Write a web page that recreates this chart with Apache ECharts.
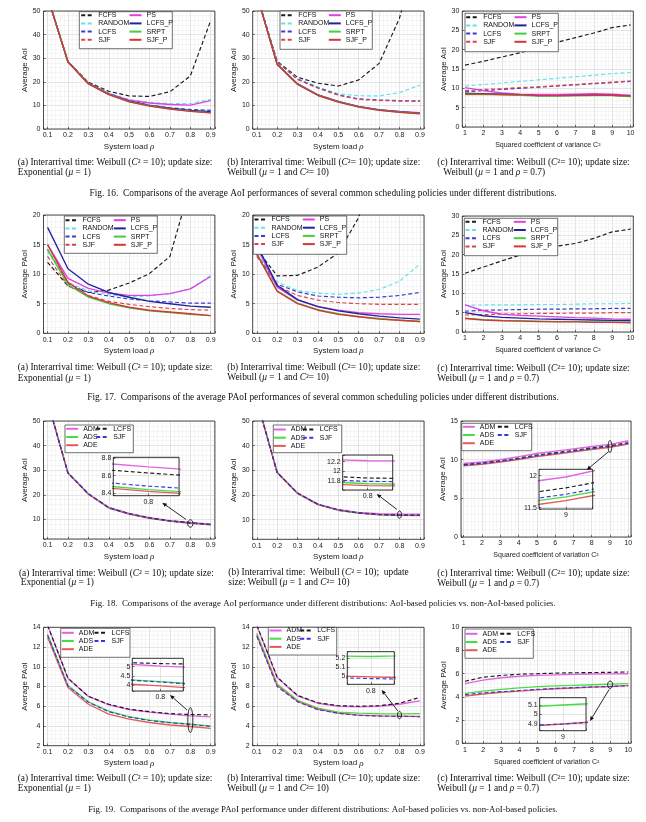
<!DOCTYPE html>
<html><head><meta charset="utf-8">
<script src="https://cdn.jsdelivr.net/npm/echarts@6/dist/echarts.min.js"></script>
<style>html,body{margin:0;padding:0;background:#fff}#c{width:646px;height:822px}</style>
</head><body><div id="c"></div>
<script>
// ---------- x values ----------
const rho = [0.1,0.2,0.3,0.4,0.5,0.6,0.7,0.8,0.9];
const c2 = [1,2,3,4,5,6,7,8,9,10];

// ---------- Fig. 16 (AoI) ----------
const f16a_FCFS   = [56, 28.6, 19.8, 16.0, 14.0, 13.8, 15.8, 22.5, 46];
const f16a_RANDOM = [56, 28.5, 19.5, 15.2, 12.5, 11.3, 10.8, 10.8, 12.6];
const f16a_LCFS   = [56, 28.5, 19.4, 14.9, 11.9, 10.1, 9.0, 8.3, 7.9];
const f16a_SJF    = [56, 28.5, 19.3, 14.8, 11.7, 9.9, 8.6, 7.7, 7.0];
const f16a_PS     = [56, 28.5, 19.4, 15.0, 12.2, 11.0, 10.4, 10.1, 12.0];
const f16a_LCFS_P = [56, 28.5, 19.3, 14.8, 11.8, 10.0, 8.8, 7.9, 7.3];
const f16a_SRPT   = [56, 28.5, 19.2, 14.7, 11.6, 9.8, 8.5, 7.6, 6.9];
const f16a_SJF_P  = [56, 28.4, 19.1, 14.6, 11.5, 9.7, 8.4, 7.5, 6.8];

const f16b_FCFS   = [57, 28.7, 21.9, 19.4, 18.2, 20.8, 27.8, 47, 80];
const f16b_RANDOM = [57, 28.6, 21.3, 17.8, 14.9, 14.1, 14.0, 15.4, 18.6];
const f16b_LCFS   = [57, 28.5, 21.1, 17.5, 14.5, 12.8, 12.3, 12.0, 11.9];
const f16b_SJF    = [57, 28.4, 21.0, 17.3, 14.3, 12.5, 12.1, 11.8, 11.7];
const f16b_PS     = [57, 27.5, 19.2, 14.5, 11.7, 9.6, 8.2, 7.5, 6.9];
const f16b_LCFS_P = [57, 27.4, 19.1, 14.4, 11.6, 9.5, 8.1, 7.3, 6.6];
const f16b_SRPT   = [57, 27.4, 19.0, 14.3, 11.5, 9.4, 8.0, 7.2, 6.5];
const f16b_SJF_P  = [57, 27.3, 18.9, 14.2, 11.4, 9.3, 7.9, 7.1, 6.4];

const f16c_FCFS   = [16.0, 17.0, 18.1, 19.2, 20.6, 21.9, 23.1, 24.3, 25.7, 26.4];
const f16c_RANDOM = [10.6, 11.0, 11.4, 11.8, 12.2, 12.6, 13.0, 13.4, 13.8, 14.1];
const f16c_LCFS   = [9.1, 9.4, 9.7, 10.0, 10.3, 10.6, 10.9, 11.2, 11.5, 11.8];
const f16c_SJF    = [9.4, 9.7, 9.9, 10.2, 10.4, 10.7, 11.0, 11.3, 11.6, 11.9];
const f16c_PS     = [10.2, 9.4, 8.8, 8.5, 8.4, 8.4, 8.5, 8.6, 8.5, 8.2];
const f16c_LCFS_P = [8.7, 8.6, 8.5, 8.3, 8.1, 8.1, 8.2, 8.2, 8.2, 8.0];
const f16c_SRPT   = [8.4, 8.4, 8.3, 8.2, 8.0, 8.0, 8.1, 8.1, 8.1, 7.9];
const f16c_SJF_P  = [8.5, 8.5, 8.4, 8.3, 8.1, 8.1, 8.1, 8.2, 8.2, 8.0];

// ---------- Fig. 17 (PAoI) ----------
const f17a_FCFS   = [12.0, 8.0, 6.9, 7.3, 8.5, 10.1, 13.0, 25, 45];
const f17a_RANDOM = [13.8, 8.6, 7.2, 6.5, 6.2, 6.3, 6.7, 7.5, 9.8];
const f17a_LCFS   = [14.2, 8.4, 6.9, 6.3, 5.8, 5.5, 5.3, 5.1, 5.1];
const f17a_SJF    = [13.0, 8.0, 6.4, 5.4, 4.9, 4.5, 4.2, 4.0, 3.9];
const f17a_PS     = [15.0, 9.3, 7.6, 6.8, 6.4, 6.4, 6.7, 7.5, 9.6];
const f17a_LCFS_P = [17.9, 10.9, 8.3, 6.9, 6.1, 5.4, 5.0, 4.6, 4.4];
const f17a_SRPT   = [14.2, 8.2, 6.1, 5.0, 4.3, 3.8, 3.5, 3.2, 3.0];
const f17a_SJF_P  = [15.0, 8.6, 6.3, 5.2, 4.4, 3.9, 3.6, 3.3, 3.0];

const f17b_FCFS   = [14.2, 9.7, 9.8, 11.2, 13.6, 19.6, 32, 55, 90];
const f17b_RANDOM = [13.5, 8.7, 7.2, 6.8, 6.6, 6.8, 7.4, 8.8, 11.7];
const f17b_LCFS   = [13.3, 8.3, 7.0, 6.3, 6.1, 6.0, 6.1, 6.4, 6.9];
const f17b_SJF    = [13.0, 8.0, 6.4, 5.6, 5.2, 5.0, 4.9, 4.9, 4.9];
const f17b_PS     = [14.5, 7.8, 5.6, 4.5, 3.9, 3.5, 3.3, 3.2, 3.2];
const f17b_LCFS_P = [15.0, 8.1, 5.7, 4.5, 3.8, 3.3, 2.9, 2.6, 2.4];
const f17b_SRPT   = [13.5, 7.2, 5.1, 4.0, 3.3, 2.8, 2.5, 2.2, 2.0];
const f17b_SJF_P  = [13.4, 7.1, 5.0, 3.9, 3.2, 2.8, 2.4, 2.2, 2.0];

const f17c_FCFS   = [15.2, 16.8, 18.4, 19.9, 21.2, 22.2, 22.9, 24.2, 25.9, 26.6];
const f17c_RANDOM = [6.9, 7.0, 7.0, 7.0, 7.1, 7.1, 7.2, 7.3, 7.3, 7.4];
const f17c_LCFS   = [5.4, 5.6, 5.7, 5.8, 5.9, 5.9, 6.0, 6.0, 6.1, 6.1];
const f17c_SJF    = [4.4, 4.5, 4.6, 4.7, 4.8, 4.8, 4.9, 4.9, 5.0, 5.0];
const f17c_PS     = [7.0, 5.5, 4.6, 4.3, 4.1, 3.9, 3.7, 3.6, 3.4, 3.3];
const f17c_LCFS_P = [5.0, 4.2, 3.8, 3.6, 3.4, 3.3, 3.2, 3.1, 3.0, 2.9];
const f17c_SRPT   = [3.6, 3.2, 3.0, 2.9, 2.8, 2.7, 2.7, 2.6, 2.6, 2.5];
const f17c_SJF_P  = [3.5, 3.1, 2.9, 2.8, 2.7, 2.6, 2.6, 2.5, 2.5, 2.4];

// ---------- Fig. 18 (AoI, AoI-based vs non-AoI-based) ----------
const f18a_ADM  = [58, 28.9, 20.4, 14.9, 12.4, 10.7, 9.5, 8.70, 8.0];
const f18a_ADS  = [58, 28.8, 20.3, 14.7, 12.2, 10.5, 9.3, 8.44, 7.82];
const f18a_ADE  = [58, 28.8, 20.2, 14.6, 12.1, 10.4, 9.25, 8.42, 7.8];
const f18a_LCFS = [58, 28.9, 20.4, 14.8, 12.3, 10.6, 9.4, 8.63, 7.95];
const f18a_SJF  = [58, 28.8, 20.3, 14.7, 12.2, 10.5, 9.3, 8.48, 7.85];

const f18b_ADM  = [58.5, 29.2, 20.8, 16.3, 14.0, 12.9, 12.4, 12.22, 12.2];
const f18b_ADS  = [58.5, 29.1, 20.7, 16.1, 13.8, 12.6, 12.0, 11.74, 11.7];
const f18b_ADE  = [58.5, 29.0, 20.6, 16.1, 13.8, 12.6, 11.9, 11.70, 11.65];
const f18b_LCFS = [58.5, 29.1, 20.7, 16.2, 13.9, 12.7, 12.1, 11.86, 11.8];
const f18b_SJF  = [58.5, 29.1, 20.7, 16.2, 13.9, 12.7, 12.0, 11.79, 11.75];

const f18c_ADM  = [9.5, 9.7, 10.0, 10.4, 10.8, 11.1, 11.4, 11.7, 11.98, 12.45];
const f18c_ADS  = [9.25, 9.45, 9.75, 10.1, 10.45, 10.75, 11.05, 11.38, 11.67, 12.05];
const f18c_ADE  = [9.2, 9.4, 9.7, 10.0, 10.4, 10.7, 11.0, 11.32, 11.61, 12.0];
const f18c_LCFS = [9.35, 9.55, 9.85, 10.2, 10.6, 10.9, 11.2, 11.52, 11.81, 12.2];
const f18c_SJF  = [9.3, 9.5, 9.8, 10.1, 10.5, 10.8, 11.1, 11.42, 11.71, 12.1];

// ---------- Fig. 19 (PAoI, AoI-based vs non-AoI-based) ----------
const f19a_ADM  = [14.2, 8.8, 7.0, 6.15, 5.65, 5.4, 5.2, 5.02, 4.92];
const f19a_ADS  = [13.3, 8.1, 6.45, 5.5, 4.95, 4.6, 4.35, 4.18, 4.0];
const f19a_ADE  = [13.0, 7.9, 6.2, 5.2, 4.7, 4.35, 4.1, 3.95, 3.75];
const f19a_LCFS = [14.2, 8.85, 7.0, 6.2, 5.7, 5.45, 5.25, 5.16, 5.12];
const f19a_SJF  = [13.2, 8.05, 6.4, 5.45, 4.9, 4.55, 4.33, 4.16, 3.95];

const f19b_ADM  = [14.2, 8.9, 7.05, 6.3, 6.0, 5.95, 6.0, 6.2, 6.55];
const f19b_ADS  = [13.4, 8.25, 6.6, 5.8, 5.4, 5.3, 5.24, 5.22, 5.25];
const f19b_ADE  = [13.2, 8.1, 6.5, 5.7, 5.3, 5.1, 5.02, 4.99, 4.96];
const f19b_LCFS = [14.2, 8.95, 7.1, 6.35, 6.05, 6.0, 6.05, 6.3, 6.9];
const f19b_SJF  = [13.1, 8.0, 6.45, 5.65, 5.28, 5.08, 5.0, 4.97, 4.95];

const f19c_ADM  = [5.15, 5.45, 5.65, 5.78, 5.85, 5.9, 5.94, 5.97, 5.99, 6.0];
const f19c_ADS  = [4.3, 4.5, 4.65, 4.78, 4.88, 4.95, 5.0, 5.05, 5.1, 5.15];
const f19c_ADE  = [4.08, 4.25, 4.4, 4.5, 4.6, 4.7, 4.77, 4.84, 4.9, 4.97];
const f19c_LCFS = [5.35, 5.7, 5.85, 5.95, 6.0, 6.05, 6.08, 6.1, 6.12, 6.15];
const f19c_SJF  = [4.2, 4.35, 4.45, 4.55, 4.65, 4.73, 4.8, 4.86, 4.9, 4.97];

// ---------- text ----------
const LEFT8 = ['FCFS','RANDOM','LCFS','SJF'];
const RIGHT8 = ['PS','LCFS_P','SRPT','SJF_P'];
const LEFT5 = ['ADM','ADS','ADE'];
const RIGHT5 = ['LCFS#2','SJF#2'];
const X_LOAD = 'System load {i|ρ}';
const X_VARIANCE = 'Squared coefficient of variance C²';
const X_VARIATION = 'Squared coefficient of variation C²';
const Y_AOI = 'Average AoI';
const Y_PAOI = 'Average PAoI';

// ---------- styles ----------
const SANS = '"Liberation Sans", Arial, sans-serif';
const SERIF = '"Liberation Serif", "Times New Roman", serif';
const STY = {
  FCFS:{color:'#1a1a1a',dash:true}, RANDOM:{color:'#62e2e8',dash:true},
  LCFS:{color:'#3a3ad2',dash:true}, SJF:{color:'#dc4444',dash:true},
  PS:{color:'#e040e0'}, LCFS_P:{color:'#23239e'}, SRPT:{color:'#3fcf3f'}, SJF_P:{color:'#d43636'},
  ADM:{color:'#e462e4'}, ADS:{color:'#48dc48'}, ADE:{color:'#e45a5a'},
  'LCFS#2':{color:'#1a1a1a',dash:true}, 'SJF#2':{color:'#3838dc',dash:true}
};

function S8(p){ return [['FCFS',p.FCFS],['RANDOM',p.RANDOM],['LCFS',p.LCFS],['SJF',p.SJF],['PS',p.PS],['LCFS_P',p.LCFS_P],['SRPT',p.SRPT],['SJF_P',p.SJF_P]]; }
function S5(p){ return [['ADM',p.ADM],['ADS',p.ADS],['ADE',p.ADE],['LCFS#2',p.LCFS],['SJF#2',p.SJF]]; }

const XL = [0.08,0.92,0.1], XC = [0.85,10.15,1];
const PANELS = [
 {rect:[43.5,11,171.3,118], xr:XL, yr:[0,50,10], xs:rho, yName:Y_AOI, xName:X_LOAD, xnf:8, xng:13,
  series:S8({FCFS:f16a_FCFS,RANDOM:f16a_RANDOM,LCFS:f16a_LCFS,SJF:f16a_SJF,PS:f16a_PS,LCFS_P:f16a_LCFS_P,SRPT:f16a_SRPT,SJF_P:f16a_SJF_P}),
  leg:{L:81.7,R:130,top:15.7,left:LEFT8,right:RIGHT8,box:[79.3,11.7,172.3,48.7]}},
 {rect:[252.7,11,171.3,118], xr:XL, yr:[0,50,10], xs:rho, yName:Y_AOI, xName:X_LOAD, xnf:8, xng:13,
  series:S8({FCFS:f16b_FCFS,RANDOM:f16b_RANDOM,LCFS:f16b_LCFS,SJF:f16b_SJF,PS:f16b_PS,LCFS_P:f16b_LCFS_P,SRPT:f16b_SRPT,SJF_P:f16b_SJF_P}),
  leg:{L:281.7,R:329.3,top:15.7,left:LEFT8,right:RIGHT8,box:[280,11,372.3,49.3]}},
 {rect:[462.3,11,171,116], xr:XC, yr:[0,30,5], xs:c2, yName:Y_AOI, xName:X_VARIANCE, xnf:7, xng:15,
  series:S8({FCFS:f16c_FCFS,RANDOM:f16c_RANDOM,LCFS:f16c_LCFS,SJF:f16c_SJF,PS:f16c_PS,LCFS_P:f16c_LCFS_P,SRPT:f16c_SRPT,SJF_P:f16c_SJF_P}),
  leg:{L:466.7,R:515,top:17.7,left:LEFT8,right:RIGHT8,box:[465,13.3,558.3,51.7]}},
 {rect:[43.5,215,171.3,118.3], xr:XL, yr:[0,20,5], xs:rho, yName:Y_PAOI, xName:X_LOAD, xnf:8, xng:13,
  series:S8({FCFS:f17a_FCFS,RANDOM:f17a_RANDOM,LCFS:f17a_LCFS,SJF:f17a_SJF,PS:f17a_PS,LCFS_P:f17a_LCFS_P,SRPT:f17a_SRPT,SJF_P:f17a_SJF_P}),
  leg:{L:66,R:114.3,top:220.7,left:LEFT8,right:RIGHT8,box:[64.3,216,157.3,253.3]}},
 {rect:[252.7,215,171.3,118.3], xr:XL, yr:[0,20,5], xs:rho, yName:Y_PAOI, xName:X_LOAD, xnf:8, xng:13,
  series:S8({FCFS:f17b_FCFS,RANDOM:f17b_RANDOM,LCFS:f17b_LCFS,SJF:f17b_SJF,PS:f17b_PS,LCFS_P:f17b_LCFS_P,SRPT:f17b_SRPT,SJF_P:f17b_SJF_P}),
  leg:{L:255,R:303.3,top:220,left:LEFT8,right:RIGHT8,box:[253.3,216,346.7,254.3]}},
 {rect:[462.3,216,171,116], xr:XC, yr:[0,30,5], xs:c2, yName:Y_PAOI, xName:X_VARIANCE, xnf:7, xng:15,
  series:S8({FCFS:f17c_FCFS,RANDOM:f17c_RANDOM,LCFS:f17c_LCFS,SJF:f17c_SJF,PS:f17c_PS,LCFS_P:f17c_LCFS_P,SRPT:f17c_SRPT,SJF_P:f17c_SJF_P}),
  leg:{L:466,R:514.3,top:222.3,left:LEFT8,right:RIGHT8,box:[464.3,218.3,557.7,255.7]}},
 {rect:[43.5,421,171.3,118], xr:XL, yr:[2,50,10], xs:rho, yName:Y_AOI, xName:X_LOAD, xnf:8, xng:13,
  series:S5({ADM:f18a_ADM,ADS:f18a_ADS,ADE:f18a_ADE,LCFS:f18a_LCFS,SJF:f18a_SJF}),
  leg:{L:66.7,R:96.7,top:429.3,left:LEFT5,right:RIGHT5,box:[65,425,133.3,452.7]}},
 {rect:[252.7,421,171.3,118.3], xr:XL, yr:[2,50,10], xs:rho, yName:Y_AOI, xName:X_LOAD, xnf:8, xng:13,
  series:S5({ADM:f18b_ADM,ADS:f18b_ADS,ADE:f18b_ADE,LCFS:f18b_LCFS,SJF:f18b_SJF}),
  leg:{L:274.3,R:303.3,top:430,left:LEFT5,right:RIGHT5,box:[273.3,425,341.7,452.7]}},
 {rect:[461,421,170,116], xr:XC, yr:[0,15,5], xs:c2, yName:Y_AOI, xName:X_VARIATION, xnf:7, xng:15,
  series:S5({ADM:f18c_ADM,ADS:f18c_ADS,ADE:f18c_ADE,LCFS:f18c_LCFS,SJF:f18c_SJF}),
  leg:{L:463.3,R:498.3,top:427.3,left:LEFT5,right:RIGHT5,box:[461.7,423.3,531.7,450.7]}},
 {rect:[43.5,627.3,171.3,118.4], xr:XL, yr:[2,14,2], xs:rho, yName:Y_PAOI, xName:X_LOAD, xnf:8, xng:13,
  series:S5({ADM:f19a_ADM,ADS:f19a_ADS,ADE:f19a_ADE,LCFS:f19a_LCFS,SJF:f19a_SJF}),
  leg:{L:62.3,R:95,top:633.3,left:LEFT5,right:RIGHT5,box:[60.7,628.3,130,657.3]}},
 {rect:[252.7,627.3,171.3,118.4], xr:XL, yr:[2,14,2], xs:rho, yName:Y_PAOI, xName:X_LOAD, xnf:8, xng:13,
  series:S5({ADM:f19b_ADM,ADS:f19b_ADS,ADE:f19b_ADE,LCFS:f19b_LCFS,SJF:f19b_SJF}),
  leg:{L:270,R:300.7,top:631,left:LEFT5,right:RIGHT5,box:[268.3,627.3,336.7,655]}},
 {rect:[462.3,627.3,168.7,116], xr:XC, yr:[0,10,2], xs:c2, yName:Y_PAOI, xName:X_VARIATION, xnf:7, xng:15,
  series:S5({ADM:f19c_ADM,ADS:f19c_ADS,ADE:f19c_ADE,LCFS:f19c_LCFS,SJF:f19c_SJF}),
  leg:{L:466,R:500.7,top:634.3,left:LEFT5,right:RIGHT5,box:[465,629,533.3,658.3]}}
];

const INSETS = [
 {panel:6, rect:[113.3,457.3,65.7,38.4], xr:[0.796,0.8035,0.01], yr:[8.37,8.81,0.2], ell:[0.8,8.3,2.7,3.7], arrow:[-4.3,-4,162.3,502.7]},
 {panel:7, rect:[342.7,455,50,35], xr:[0.79,0.81,0.02], yr:[11.61,12.34,0.2], ell:[0.8,12.0,2,3.7], arrow:[-2.7,-5.3,376.7,494]},
 {panel:8, rect:[539,469.3,53.7,39.7], xr:[8.8,9.2,0.5], yr:[11.48,12.1,0.5], ell:[9,11.7,1.8,6], arrow:[-1.3,5,586.7,470]},
 {panel:9, rect:[132.3,658.3,51,32.7], xr:[0.745,0.845,0.1], yr:[3.67,5.45,0.5], ell:[0.8,4.6,2.5,12.5], arrow:[-3.3,-10,170,695]},
 {panel:10, rect:[347.3,651.7,47,32.6], xr:[0.775,0.825,0.05], yr:[4.905,5.275,0.1], ell:[0.8,5.1,2,3.7], arrow:[-1.6,-4,381.7,690]},
 {panel:11, rect:[539.7,697.7,46.3,33], xr:[8.75,9.25,0.5], yr:[4.83,5.177,0.1], ell:[9,5.05,2.5,3.7], arrow:[-1,4.7,590,721]}
];

const SUB_A1 = '(a) Interarrival time: Weibull ({i|C}² = 10); update size:';
const SUB_A2 = 'Exponential ({i|μ} = 1)';
const SUB_B1 = '(b) Interarrival time: Weibull ({i|C}²= 10); update size:';
const SUB_B2 = 'Weibull ({i|μ} = 1 and {i|C}²= 10)';
const SUB_C1 = '(c) Interarrival time: Weibull ({i|C}²= 10); update size:';
const SUB_C2 = 'Weibull ({i|μ} = 1 and {i|ρ} = 0.7)';
const SUB_B1_18 = '(b) Interarrival time:  Weibull ({i|C}² = 10);  update';
const SUB_B2_18 = 'size: Weibull ({i|μ} = 1 and {i|C}²= 10)';
const CAPTIONS = [
 'Fig. 16.  Comparisons of the average AoI performances of several common scheduling policies under different distributions.',
 'Fig. 17.  Comparisons of the average PAoI performances of several common scheduling policies under different distributions.',
 'Fig. 18.  Comparisons of the average AoI performance under different distributions: AoI-based policies vs. non-AoI-based policies.',
 'Fig. 19.  Comparisons of the average PAoI performance under different distributions: AoI-based policies vs. non-AoI-based policies.'
];
// [text, x, y]
const SUBCAPS = [
 [SUB_A1,17.7,162.3],[SUB_A2,17.7,172.7],[SUB_B1,227.3,162.3],[SUB_B2,227.3,172.7],[SUB_C1,437.3,162.3],[SUB_C2,443.3,172.7],
 [SUB_A1,17.7,368],[SUB_A2,17.7,378.3],[SUB_B1,227.3,367.5],[SUB_B2,227.3,377.7],[SUB_C1,437.3,368.3],[SUB_C2,437.3,378.3],
 [SUB_A1,19,573.3],[SUB_A2,20.7,582.7],[SUB_B1_18,228.3,572.7],[SUB_B2_18,228.3,582.7],[SUB_C1,437.3,573.3],[SUB_C2,437.3,583.3],
 [SUB_A1,17.7,779],[SUB_A2,17.7,789],[SUB_B1,227.3,778.3],[SUB_B2,227.3,789],[SUB_C1,437.3,779],[SUB_C2,437.3,789]
];
const CAP_Y = [193.3, 398, 604, 810];
const CAP_FS = [9.4, 9.4, 8.85, 8.85];

// ---------- helpers ----------
function fmt(step){
  return function(v){
    const q = v/step;
    if (Math.abs(q - Math.round(q)) > 1e-6) return '';
    return String(parseFloat(v.toFixed(4)));
  };
}
function axis(r, o){
  const base = {
    type:'value', min:r[0], max:r[1], splitNumber:Math.max(1, Math.round((r[1]-r[0])/r[2])),
    axisLine:{show:false},
    axisTick:{show:true, inside:true, length:2.2, lineStyle:{color:'#222', width:0.6}},
    axisLabel:{fontSize:7, fontFamily:SANS, color:'#1a1a1a', margin:3, formatter:fmt(r[2])},
    splitLine:{show:true, lineStyle:{color:'#d2d2d2', width:0.6}},
    minorTick:{show:false, splitNumber:5},
    minorSplitLine:{show:true, lineStyle:{color:'#ececec', width:0.5}}
  };
  return Object.assign(base, o||{});
}
function pairs(xs, ys){ return xs.map((x,i)=>[x, ys[i]]); }
function line(name, xs, ys, gi, z){
  const s = STY[name];
  return {type:'line', name:name, data:pairs(xs,ys), xAxisIndex:gi, yAxisIndex:gi,
    symbol:'none', showSymbol:false, clip:true, silent:true, z:z, animation:false,
    lineStyle:{color:s.color, width:s.dash?1.15:1.35, type:s.dash?[4,2.5]:'solid'},
    itemStyle:{color:s.color}, emphasis:{disabled:true}};
}

const grids=[], xAxes=[], yAxes=[], series=[], legends=[];
PANELS.forEach((p,i)=>{
  grids.push({left:p.rect[0], top:p.rect[1], width:p.rect[2], height:p.rect[3], show:true,
    borderColor:'#222', borderWidth:0.8, backgroundColor:'transparent', z:1, containLabel:false, outerBoundsMode:'none'});
  xAxes.push(axis(p.xr, {gridIndex:i, name:p.xName, nameLocation:'middle', nameGap:p.xng,
    nameTextStyle:{fontSize:p.xnf, fontFamily:SANS, color:'#1a1a1a', rich:{i:{fontFamily:SERIF, fontStyle:'italic', fontSize:p.xnf+1}}}}));
  yAxes.push(axis(p.yr, {gridIndex:i, name:p.yName, nameLocation:'middle', nameGap:12,
    nameTextStyle:{fontSize:8, fontFamily:SANS, color:'#1a1a1a'}}));
  p.series.forEach(s=>series.push(line(s[0], p.xs, s[1], i, 2)));
  [[p.leg.L, p.leg.left],[p.leg.R, p.leg.right]].forEach(c=>{
    legends.push({orient:'vertical', left:c[0]-1.5, top:p.leg.top-4, padding:0, itemWidth:12, itemHeight:8, itemGap:1.2,
      selectedMode:false, z:20, data:c[1], formatter:n=>n.split('#')[0],
      itemStyle:{opacity:0}, textStyle:{fontSize:7, fontFamily:SANS, color:'#111'}});
  });
});
INSETS.forEach((ins,k)=>{
  const gi = PANELS.length + k, p = PANELS[ins.panel];
  grids.push({left:ins.rect[0], top:ins.rect[1], width:ins.rect[2], height:ins.rect[3], show:true,
    borderColor:'#222', borderWidth:0.9, backgroundColor:'transparent', z:8, containLabel:false, outerBoundsMode:'none'});
  xAxes.push(axis(ins.xr, {gridIndex:gi, z:6, minorSplitLine:{show:false}, axisLabel:{fontSize:7, fontFamily:SANS, color:'#1a1a1a', margin:3, formatter:fmt(ins.xr[2])}}));
  yAxes.push(axis(ins.yr, {gridIndex:gi, z:6, minorSplitLine:{show:false}, axisLabel:{fontSize:7, fontFamily:SANS, color:'#1a1a1a', margin:2, formatter:fmt(ins.yr[2])}}));
  p.series.forEach(s=>series.push(line(s[0], p.xs, s[1], gi, 7)));
});

const chart = echarts.init(document.getElementById('c'), null, {renderer:'canvas', width:646, height:822});
chart.setOption({animation:false, backgroundColor:'#fff', grid:grids, xAxis:xAxes, yAxis:yAxes, legend:legends, series:series});

// ---------- annotations ----------
const gr = [];
PANELS.forEach(p=>{
  const b = p.leg.box;
  gr.push({type:'rect', silent:true, z:15, shape:{x:b[0], y:b[1], width:b[2]-b[0], height:b[3]-b[1]},
    style:{fill:'#fff', stroke:'#333', lineWidth:0.7}});
});
INSETS.forEach((ins,k)=>{
  gr.push({type:'rect', silent:true, z:4, shape:{x:ins.rect[0], y:ins.rect[1], width:ins.rect[2], height:ins.rect[3]}, style:{fill:'#fff'}});
  const c = chart.convertToPixel({gridIndex:ins.panel}, [ins.ell[0], ins.ell[1]]);
  gr.push({type:'ellipse', silent:true, z:20, shape:{cx:c[0], cy:c[1], rx:ins.ell[2], ry:ins.ell[3]}, style:{fill:null, stroke:'#111', lineWidth:0.9}});
  const sx = c[0]+ins.arrow[0], sy = c[1]+ins.arrow[1], ex = ins.arrow[2], ey = ins.arrow[3];
  const dx = ex-sx, dy = ey-sy, L = Math.hypot(dx,dy), ux = dx/L, uy = dy/L, hl = 4.5, hw = 2.0;
  const bx = ex-ux*hl, by = ey-uy*hl;
  gr.push({type:'line', silent:true, z:20, shape:{x1:sx, y1:sy, x2:bx, y2:by}, style:{stroke:'#111', lineWidth:0.9}});
  gr.push({type:'polygon', silent:true, z:20, shape:{points:[[ex,ey],[bx-uy*hw, by+ux*hw],[bx+uy*hw, by-ux*hw]]}, style:{fill:'#111'}});
});
const SUBFS = 9.4;
const richI = {i:{fontFamily:SERIF, fontStyle:'italic', fontSize:SUBFS, fill:'#111'}};
SUBCAPS.forEach(t=>{
  gr.push({type:'text', silent:true, z:20, x:t[1], y:t[2],
    style:{text:t[0], fontFamily:SERIF, fontSize:SUBFS, fill:'#111', align:'left', verticalAlign:'middle', rich:richI}});
});
CAPTIONS.forEach((t,i)=>{
  gr.push({type:'text', silent:true, z:20, x:323, y:CAP_Y[i],
    style:{text:t, fontFamily:SERIF, fontSize:CAP_FS[i], fill:'#111', align:'center', verticalAlign:'middle'}});
});
chart.setOption({graphic:gr});
</script>
</body></html>
